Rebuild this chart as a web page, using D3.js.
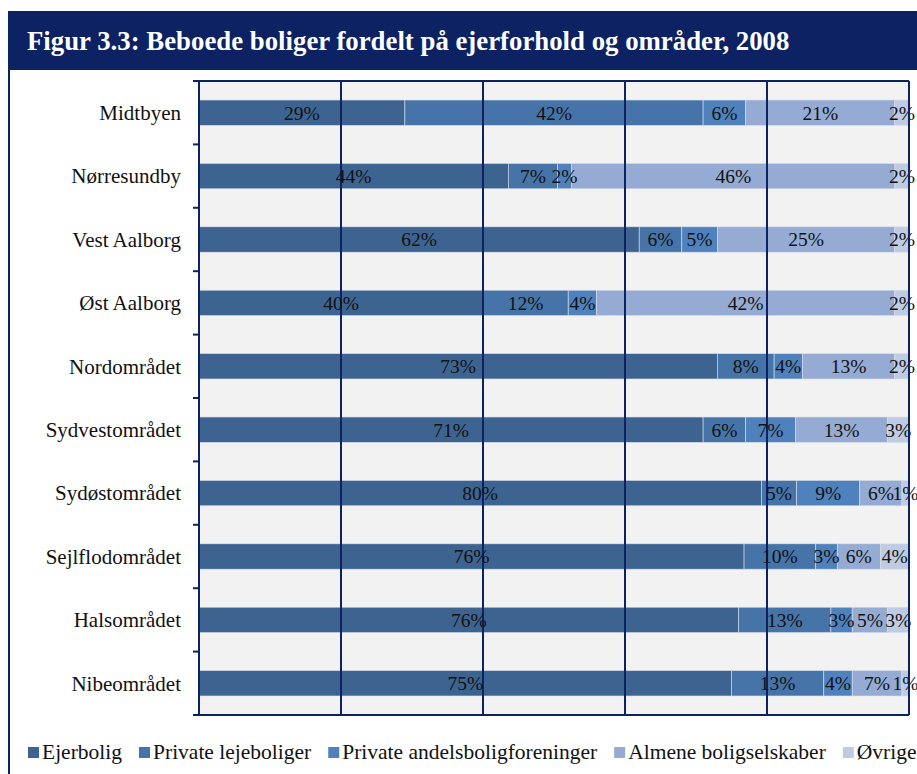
<!DOCTYPE html>
<html>
<head>
<meta charset="utf-8">
<script src="https://cdn.jsdelivr.net/npm/d3@7"></script>
<style>
  html, body { margin: 0; padding: 0; background: #ffffff; }
  svg { display: block; }
</style>
</head>
<body>
<div id="chart"></div>
<script>
// 数据
const categories = ['Midtbyen', 'Nørresundby', 'Vest Aalborg', 'Øst Aalborg', 'Nordområdet',
  'Sydvestområdet', 'Sydøstområdet', 'Sejlflodområdet', 'Halsområdet', 'Nibeområdet'];
const seriesNames = ['Ejerbolig', 'Private lejeboliger', 'Private andelsboligforeninger',
  'Almene boligselskaber', 'Øvrige'];
const ejerbolig = [29, 44, 62, 40, 73, 71, 80, 76, 76, 75];
const privateLeje = [42, 7, 6, 12, 8, 6, 5, 10, 13, 13];
const andels = [6, 2, 5, 4, 4, 7, 9, 3, 3, 4];
const almene = [21, 46, 25, 42, 13, 13, 6, 6, 5, 7];
const oevrige = [2, 2, 2, 2, 2, 3, 1, 4, 3, 1];
const xTicks = [0, 0.2, 0.4, 0.6, 0.8, 1];
const titleText = 'Figur 3.3: Beboede boliger fordelt på ejerforhold og områder, 2008';

const colors = ['#3d6491', '#4674a8', '#4f81bd', '#95abd3', '#bfcbe3'];
const navy = '#0c2262';
const font = '"Liberation Serif", "Times New Roman", serif';

const W = 917, H = 774;
const margin = { left: 199, right: 8, top: 81, bottom: 59 };

const svg = d3.select('#chart').append('svg')
  .attr('width', W).attr('height', H);

// 标题栏
svg.append('rect')
  .attr('x', 8).attr('y', 11).attr('width', W - 8).attr('height', 59)
  .attr('fill', navy);
svg.append('text')
  .attr('x', 27).attr('y', 50)
  .attr('fill', '#ffffff')
  .attr('font-family', font).attr('font-weight', 'bold').attr('font-size', 26.8)
  .text(titleText);

// 左边框
svg.append('line')
  .attr('x1', 9).attr('x2', 9).attr('y1', 11).attr('y2', H)
  .attr('stroke', navy).attr('stroke-width', 2);

const rows = categories.map((c, i) => ({
  name: c,
  [seriesNames[0]]: ejerbolig[i],
  [seriesNames[1]]: privateLeje[i],
  [seriesNames[2]]: andels[i],
  [seriesNames[3]]: almene[i],
  [seriesNames[4]]: oevrige[i]
}));

// 每行归一化到100%
const stacked = d3.stack().keys(seriesNames).offset(d3.stackOffsetExpand)(rows);

const x = d3.scaleLinear().domain([0, 1]).range([margin.left, W - margin.right]);
const y = d3.scaleBand().domain(categories).range([margin.top, H - margin.bottom])
  .paddingInner(0.6).paddingOuter(0.3);
const yOuter = d3.scaleBand().domain(categories).range([margin.top, H - margin.bottom]);

// 绘图区背景
svg.append('rect')
  .attr('x', x(0)).attr('y', margin.top)
  .attr('width', x(1) - x(0)).attr('height', H - margin.bottom - margin.top)
  .attr('fill', '#f2f2f2');

// 堆叠条
const layer = svg.append('g').selectAll('g')
  .data(stacked).join('g')
  .attr('fill', (d, i) => colors[i]);

layer.selectAll('rect')
  .data(d => d)
  .join('rect')
  .attr('x', d => x(d[0]))
  .attr('y', d => y(d.data.name))
  .attr('width', d => x(d[1]) - x(d[0]))
  .attr('height', y.bandwidth())
  .attr('stroke', '#d9e0ec')
  .attr('stroke-width', 0.6);

// 网格线
svg.append('g').selectAll('line')
  .data(xTicks.slice(1))
  .join('line')
  .attr('x1', d => x(d)).attr('x2', d => x(d))
  .attr('y1', margin.top).attr('y2', H - margin.bottom)
  .attr('stroke', navy).attr('stroke-width', 2);

// 顶部边框
svg.append('line')
  .attr('x1', x(0)).attr('x2', x(1))
  .attr('y1', margin.top).attr('y2', margin.top)
  .attr('stroke', navy).attr('stroke-width', 2);

// 数值标签
const seriesValues = [ejerbolig, privateLeje, andels, almene, oevrige];
stacked.forEach((s, si) => {
  const vals = seriesValues[si];
  svg.append('g').selectAll('text')
    .data(s)
    .join('text')
    .attr('x', d => (x(d[0]) + x(d[1])) / 2)
    .attr('y', d => y(d.data.name) + y.bandwidth() / 2)
    .attr('dy', '0.35em')
    .attr('text-anchor', 'middle')
    .attr('font-family', font).attr('font-size', 19.5)
    .attr('fill', '#111111')
    .text((d, i) => vals[i] + '%');
});

// y轴
const yAxisG = svg.append('g');
yAxisG.append('line')
  .attr('x1', x(0)).attr('x2', x(0))
  .attr('y1', margin.top).attr('y2', H - margin.bottom)
  .attr('stroke', navy).attr('stroke-width', 2);
yAxisG.selectAll('line.tick')
  .data(categories)
  .join('line')
  .attr('class', 'tick')
  .attr('x1', x(0) - 6).attr('x2', x(0))
  .attr('y1', d => yOuter(d)).attr('y2', d => yOuter(d))
  .attr('stroke', navy).attr('stroke-width', 2);
yAxisG.selectAll('text')
  .data(categories)
  .join('text')
  .attr('x', 181)
  .attr('y', d => y(d) + y.bandwidth() / 2)
  .attr('dy', '0.35em')
  .attr('text-anchor', 'end')
  .attr('font-family', font).attr('font-size', 21)
  .attr('fill', '#111111')
  .text(d => d);

// x轴 (底部)
svg.append('line')
  .attr('x1', x(0) - 6).attr('x2', x(1))
  .attr('y1', H - margin.bottom).attr('y2', H - margin.bottom)
  .attr('stroke', navy).attr('stroke-width', 2);

// 右边框
svg.append('line')
  .attr('x1', x(1)).attr('x2', x(1))
  .attr('y1', margin.top).attr('y2', H - margin.bottom)
  .attr('stroke', navy).attr('stroke-width', 2);

// 图例
const legend = svg.append('g');
let lx = 28;
seriesNames.forEach((name, i) => {
  legend.append('rect')
    .attr('x', lx).attr('y', 747).attr('width', 11).attr('height', 11)
    .attr('fill', colors[i]);
  const t = legend.append('text')
    .attr('x', lx + 14).attr('y', 759)
    .attr('font-family', font).attr('font-size', 21.5)
    .attr('fill', '#111111')
    .text(name);
  lx += 14 + t.node().getComputedTextLength() + 17;
});
</script>
</body>
</html>
